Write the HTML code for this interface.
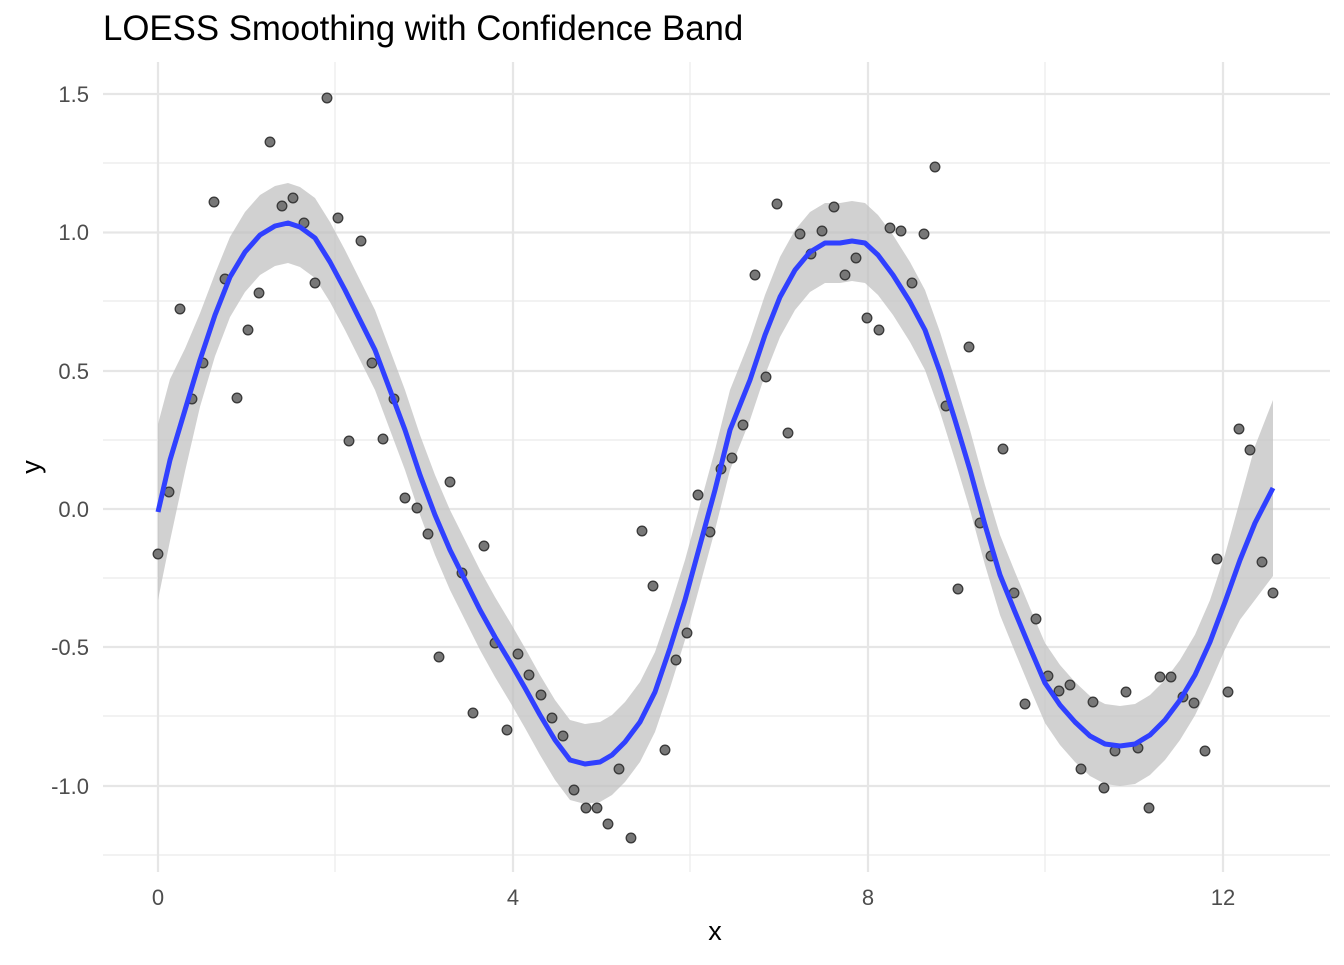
<!DOCTYPE html>
<html><head><meta charset="utf-8"><style>
html,body{margin:0;padding:0;background:#fff;}
text{font-family:"Liberation Sans",sans-serif;}
</style></head><body>
<svg id="s" width="1344" height="960" xmlns="http://www.w3.org/2000/svg">
<text x="103" y="40" font-size="34.8" fill="#000">LOESS Smoothing with Confidence Band</text>
<g id="grid"></g>
<path id="band" fill="#bebebe" fill-opacity="0.7" stroke="none"/>
<g id="pts"></g>
<polyline id="curve" fill="none" stroke="#3040ff" stroke-width="5" stroke-linejoin="round"/>
<g font-size="22" fill="#4d4d4d">
<text x="158" y="905" text-anchor="middle">0</text>
<text x="513" y="905" text-anchor="middle">4</text>
<text x="868" y="905" text-anchor="middle">8</text>
<text x="1223" y="905" text-anchor="middle">12</text>
<text x="89" y="102" text-anchor="end">1.5</text>
<text x="89" y="240" text-anchor="end">1.0</text>
<text x="89" y="379" text-anchor="end">0.5</text>
<text x="89" y="517" text-anchor="end">0.0</text>
<text x="89" y="655" text-anchor="end">-0.5</text>
<text x="89" y="794" text-anchor="end">-1.0</text>
</g>
<text x="715" y="940" font-size="27" text-anchor="middle">x</text>
<text transform="translate(40,467) rotate(-90)" font-size="27" text-anchor="middle">y</text>
</svg>
<script>
var ns="http://www.w3.org/2000/svg";
function el(t,a,p){var e=document.createElementNS(ns,t);for(var k in a)e.setAttribute(k,a[k]);document.getElementById(p).appendChild(e);}
[163,301,440,578,716,855].forEach(function(y){el("line",{x1:103,x2:1330,y1:y,y2:y,stroke:"#ebebeb","stroke-width":1.2},"grid");});
[335,690,1045].forEach(function(x){el("line",{x1:x,x2:x,y1:62,y2:872,stroke:"#ebebeb","stroke-width":1.2},"grid");});
[94,232.5,371,509,647,786].forEach(function(y){el("line",{x1:103,x2:1330,y1:y,y2:y,stroke:"#e6e6e6","stroke-width":2.2},"grid");});
[158,513,868,1223].forEach(function(x){el("line",{x1:x,x2:x,y1:62,y2:872,stroke:"#e6e6e6","stroke-width":2.2},"grid");});
var c=[[158,512],[170,460],[185,410],[200,360],[215,315],[230,277],[245,252],[260,235],[275,226],[288,223],[300,227],[315,238],[330,262],[345,290],[360,320],[375,350],[390,390],[405,430],[420,475],[435,515],[450,550],[465,580],[480,610],[495,637],[510,662],[525,688],[540,715],[555,740],[570,760],[585,764],[600,762],[612,755],[625,742],[640,722],[655,692],[670,648],[685,600],[700,545],[715,490],[730,430],[750,380],[765,335],[780,297],[795,270],[810,252],[825,243],[840,243],[852,241],[865,243],[878,255],[893,275],[910,302],[925,330],[940,372],[955,420],[970,470],[985,525],[1000,575],[1015,612],[1030,648],[1045,683],[1060,705],[1075,722],[1090,736],[1105,744],[1120,746],[1135,744],[1150,735],[1165,720],[1180,700],[1195,675],[1210,642],[1225,602],[1240,560],[1255,523],[1273,488]];
document.getElementById("curve").setAttribute("points",c.map(function(p){return p.join(",")}).join(" "));
function w(x){return 40+48*Math.exp(-Math.pow((x-158)/30,2))+48*Math.exp(-Math.pow((1273-x)/35,2));}
var upr=c.map(function(p){return p[0]+","+(p[1]-w(p[0]))});
var lwr=c.slice().reverse().map(function(p){return p[0]+","+(p[1]+w(p[0]))});
document.getElementById("band").setAttribute("d","M"+upr.join(" L")+" L"+lwr.join(" L")+" Z");
var P=[[158,554],[169,492],[180,309],[192,399],[203,363],[214,202],[225,279],[237,398],[248,330],[259,293],[270,142],[282,206],[293,198],[304,223],[315,283],[327,98],[338,218],[349,441],[361,241],[372,363],[383,439],[394,399],[405,498],[417,508],[428,534],[439,657],[450,482],[462,573],[473,713],[484,546],[495,643],[507,730],[518,654],[529,675],[541,695],[552,718],[563,736],[574,790],[586,808],[597,808],[608,824],[619,769],[631,838],[642,531],[653,586],[665,750],[676,660],[687,633],[698,495],[710,532],[721,469],[732,458],[743,425],[755,275],[766,377],[777,204],[788,433],[800,234],[811,254],[822,231],[834,207],[845,275],[856,258],[867,318],[879,330],[890,228],[901,231],[912,283],[924,234],[935,167],[946,406],[958,589],[969,347],[980,523],[991,556],[1003,449],[1014,593],[1025,704],[1036,619],[1048,676],[1059,691],[1070,685],[1081,769],[1093,702],[1104,788],[1115,751],[1126,692],[1138,748],[1149,808],[1160,677],[1171,677],[1183,697],[1194,703],[1205,751],[1217,559],[1228,692],[1239,429],[1250,450],[1262,562],[1273,593]];
P.forEach(function(p){el("circle",{cx:p[0],cy:p[1],r:4.8,fill:"#777","stroke":"#3a3a3a","stroke-width":1.3},"pts");});
</script>
</body></html>
